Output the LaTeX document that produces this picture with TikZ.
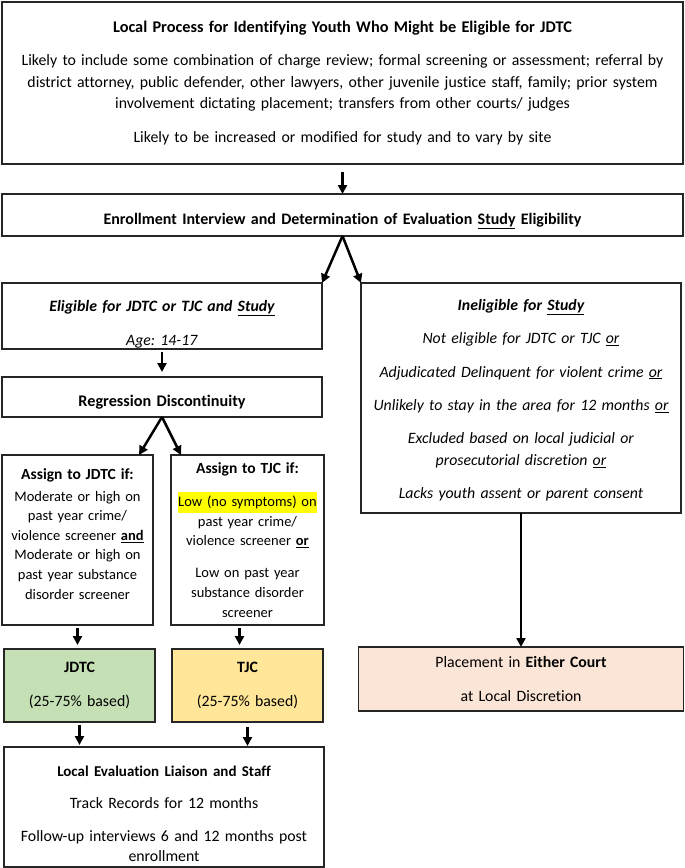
\documentclass[tikz,border=0pt]{standalone}
\usepackage{fontspec}
\setmainfont{Carlito}[Ligatures=NoCommon]
\usepackage{tikz}
\usetikzlibrary{shapes,arrows.meta,positioning}
\definecolor{jdtcgreen}{HTML}{C5E0B4}
\definecolor{tjcyellow}{HTML}{FFE699}
\definecolor{placepeach}{HTML}{FBE5D6}
\definecolor{marker}{HTML}{FFFF00}
\tikzstyle{stage} = [rectangle, draw=black!85, line width=1.2pt, fill=white, text=black, align=center, inner sep=4bp, outer sep=0pt]
\tikzstyle{small} = [font=\fontsize{14.5bp}{19.6bp}\selectfont]
\tikzstyle{tedge} = [draw, line width=2.5bp, >={Triangle[length=9bp,width=9bp]}, ->]
\frenchspacing

\begin{document}
\begin{tikzpicture}[x=1bp, y=-1bp, font=\fontsize{15.8bp}{21.5bp}\selectfont]
\useasboundingbox (0,0) rectangle (685,868);

% identification and enrollment =============================

\node[stage, minimum width=681bp, minimum height=162bp, text width=673bp] (proc) at (342.5,83)
  {{\fontsize{16.3bp}{21.5bp}\selectfont\textbf{Local Process for Identifying Youth Who Might be Eligible for JDTC}}\\[11.5bp]
   Likely to include some combination of charge review; formal screening or assessment; referral by\\
   district attorney, public defender, other lawyers, other juvenile justice staff, family; prior system\\
   involvement dictating placement; transfers from other courts/ judges\\[12bp]
   Likely to be increased or modified for study and to vary by site};
\node[stage, below=30bp of proc, minimum width=681bp, minimum height=42bp, text width=673bp, text height=18.5bp, text depth=0bp, font=\fontsize{16bp}{21.5bp}\selectfont] (enroll)
  {\textbf{Enrollment Interview and Determination of Evaluation \underline{Study} Eligibility}};

% eligibility
\node[stage, below right=47bp and 0bp of enroll.south west, minimum width=320bp, minimum height=66bp, text width=312bp, text depth=21bp] (elig)
  {\textbf{\textit{Eligible for JDTC or TJC and \underline{Study}}}\\[12.5bp]
   \textit{Age: 14-17}};
\node[stage, below left=47bp and 2bp of enroll.south east, minimum width=320bp, minimum height=230bp, text width=312bp, text depth=186bp] (inelig)
  {\textbf{\textit{Ineligible for \underline{Study}}}\\[11.8bp]
   \textit{Not eligible for JDTC or TJC \underline{or}}\\[11.8bp]
   \textit{Adjudicated Delinquent for violent crime \underline{or}}\\[11.8bp]
   \textit{Unlikely to stay in the area for 12 months \underline{or}}\\[11.8bp]
   \textit{Excluded based on local judicial or}\\
   \textit{prosecutorial discretion \underline{or}}\\[11.8bp]
   \textit{Lacks youth assent or parent consent}};

% regression discontinuity
\node[stage, below=28bp of elig, minimum width=320bp, minimum height=40bp, text width=312bp, text height=18.5bp, text depth=0bp, font=\fontsize{16.2bp}{21.5bp}\selectfont] (regr)
  {\textbf{Regression Discontinuity}};
\node[stage, small, below right=38bp and 0bp of regr.south west, minimum width=149bp, minimum height=170bp, text width=143bp, text depth=131bp] (jdtcif)
  {{\fontsize{15.5bp}{19.6bp}\selectfont\textbf{Assign to JDTC if:}}\\[1.5bp]
   Moderate or high on\\ past year crime/\\ violence screener \textbf{\underline{and}}\\
   Moderate or high on\\ past year substance\\ disorder screener};
\node[stage, small, below left=38bp and -2bp of regr.south east, minimum width=151bp, minimum height=170bp, text width=145bp] (tjcif)
  {{\fontsize{15.5bp}{19.6bp}\selectfont\textbf{Assign to TJC if:}}\\[13.5bp]
   {\setlength{\fboxsep}{0.5bp}\colorbox{marker}{\strut Low (no symptoms) on}}\\
   past year crime/\\ violence screener \textbf{\underline{or}}\\[12.5bp]
   Low on past year\\ substance disorder\\ screener};

% courts
\node[stage, fill=jdtcgreen, below right=24bp and 2bp of jdtcif.south west, minimum width=151bp, minimum height=73bp, text width=143bp] (jdtc)
  {\textbf{JDTC}\\[12.5bp] (25-75\% based)};
\node[stage, fill=tjcyellow, below left=24bp and 1bp of tjcif.south east, minimum width=151bp, minimum height=73bp, text width=143bp] (tjc)
  {\textbf{TJC}\\[12.5bp] (25-75\% based)};
\node[stage, fill=placepeach, below=134bp of inelig, minimum width=325bp, minimum height=64bp, text width=317bp] (place)
  {Placement in \textbf{Either Court}\\[12.5bp] at Local Discretion};
\node[stage, below right=25bp and 0bp of jdtc.south west, minimum width=320bp, minimum height=120bp, text width=312bp, font=\fontsize{15.8bp}{20bp}\selectfont, text depth=72bp] (liaison)
  {{\fontsize{15bp}{20bp}\selectfont\textbf{Local Evaluation Liaison and Staff}}\\[12.5bp]
   Track Records for 12 months\\[12.5bp]
   Follow-up interviews 6 and 12 months post\\ enrollment};

%edges
\path[tedge, shorten <=8bp] (proc.south) -- (enroll.north);
\path[tedge] (enroll.south) -- (elig.north east);
\path[tedge] (enroll.south) -- (inelig.north west);
\path[tedge, shorten <=3bp, shorten >=5bp] (elig.south) -- (regr.north);
\path[tedge] (regr.south) -- ([xshift=-14bp]jdtcif.north east);
\path[tedge] (regr.south) -- ([xshift=10bp]tjcif.north west);
\path[tedge, shorten <=3bp, shorten >=4bp] (jdtcif.south) -- (jdtcif.south |- jdtc.north);
\path[tedge, shorten <=3bp, shorten >=4bp] ([xshift=-8bp]tjcif.south) -- ([xshift=-8bp]tjcif.south |- tjc.north);
\path[tedge, shorten <=3bp, shorten >=2bp] (jdtc.south) -- (jdtc.south |- liaison.north);
\path[tedge, shorten <=5bp, shorten >=1bp] (tjc.south) -- (tjc.south |- liaison.north);
\path[tedge] (inelig.south) -- (inelig.south |- place.north);

\end{tikzpicture}
\end{document}
